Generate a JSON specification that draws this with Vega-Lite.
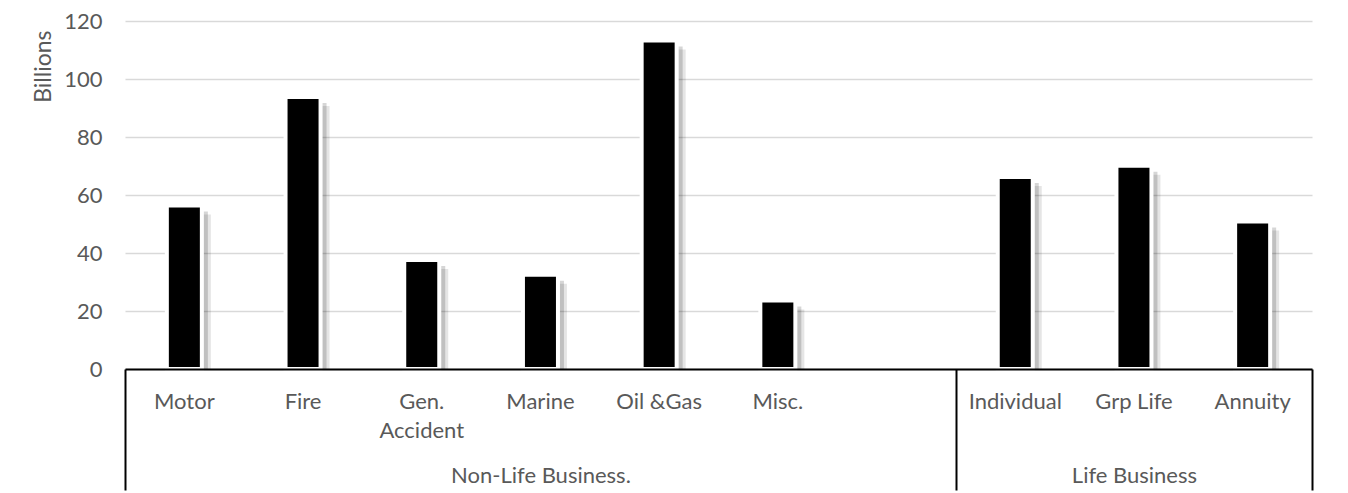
{
  "$schema": "https://vega.github.io/schema/vega-lite/v6.json",
  "width": 1187,
  "height": 348,
  "autosize": {"type": "none"},
  "padding": {"left": 125, "top": 21, "right": 36, "bottom": 124},
  "background": "white",
  "config": {
    "font": "Lato",
    "view": {"stroke": null},
    "axis": {"labelColor": "#595959", "titleColor": "#595959", "labelFont": "Lato", "titleFont": "Lato"}
  },
  "datasets": {
    "lines": [
      {"line": "Motor", "premium": 56.4},
      {"line": "Fire", "premium": 93.8},
      {"line": "Gen. Accident", "premium": 37.6},
      {"line": "Marine", "premium": 32.5},
      {"line": "Oil &Gas", "premium": 113.3},
      {"line": "Misc.", "premium": 23.6},
      {"line": "Individual", "premium": 66.2},
      {"line": "Grp Life", "premium": 70.1},
      {"line": "Annuity", "premium": 50.9}
    ],
    "groups": [
      {"group": "Non-Life Business.", "start": 0, "end": 7},
      {"group": "Life Business", "start": 7, "end": 10}
    ]
  },
  "layer": [
    {
      "data": {"name": "lines"},
      "encoding": {
        "x": {
          "field": "line",
          "type": "nominal",
          "scale": {
            "domain": ["Motor", "Fire", "Gen. Accident", "Marine", "Oil &Gas", "Misc.", "_gap", "Individual", "Grp Life", "Annuity"],
            "paddingInner": 0,
            "paddingOuter": 0
          },
          "axis": {
            "orient": "bottom",
            "title": null,
            "domain": true,
            "domainColor": "black",
            "domainWidth": 2,
            "ticks": false,
            "grid": false,
            "labelAngle": 0,
            "labelPadding": 22,
            "labelFontSize": 22,
            "labelLineHeight": 29,
            "labelExpr": "datum.label == 'Gen. Accident' ? ['Gen.', 'Accident'] : (datum.label == '_gap' ? '' : datum.label)",
            "zindex": 1
          }
        },
        "y": {
          "field": "premium",
          "type": "quantitative",
          "scale": {"domain": [0, 120], "nice": false},
          "axis": {
            "values": [0, 20, 40, 60, 80, 100, 120],
            "domain": false,
            "ticks": false,
            "grid": true,
            "gridColor": "#d9d9d9",
            "gridWidth": 1.5,
            "labelPadding": 23,
            "labelFontSize": 22,
            "title": "Billions",
            "titleFontSize": 23,
            "titleFontWeight": "normal",
            "titleAngle": -90,
            "titleX": -82,
            "titleY": 9,
            "titleAlign": "right",
            "titleBaseline": "middle"
          }
        }
      },
      "layer": [
        {
          "mark": {"type": "bar", "width": {"band": 0.295}, "fill": "#000000", "opacity": 0.1, "xOffset": 9, "yOffset": 9, "clip": true}
        },
        {
          "mark": {"type": "bar", "width": {"band": 0.295}, "fill": "#000000", "opacity": 0.16, "xOffset": 6, "yOffset": 6, "clip": true}
        },
        {
          "mark": {"type": "bar", "width": {"band": 0.295}, "fill": "#000000", "stroke": "#ffffff", "strokeWidth": 4}
        }
      ]
    },
    {
      "data": {"name": "groups"},
      "mark": {"type": "rect", "opacity": 0},
      "encoding": {
        "x": {
          "field": "start",
          "type": "quantitative",
          "scale": {"domain": [0, 10], "nice": false, "zero": false},
          "axis": {
            "orient": "bottom",
            "values": [0, 7, 10],
            "labels": false,
            "domain": false,
            "grid": false,
            "ticks": true,
            "tickSize": 121,
            "tickColor": "#000000",
            "tickWidth": 2,
            "title": null,
            "zindex": 1
          }
        },
        "x2": {"field": "end"}
      }
    },
    {
      "data": {"name": "groups"},
      "mark": {"type": "rect", "opacity": 0},
      "encoding": {
        "x": {
          "field": "start",
          "type": "quantitative",
          "scale": {"domain": [0, 10], "nice": false, "zero": false},
          "axis": {
            "orient": "bottom",
            "values": [3.5, 8.5],
            "labelExpr": "datum.value == 3.5 ? 'Non-Life Business.' : 'Life Business'",
            "labelFontSize": 22,
            "labelPadding": 96,
            "labelFlush": false,
            "labelOverlap": false,
            "domain": false,
            "grid": false,
            "ticks": false,
            "title": null,
            "zindex": 1
          }
        },
        "x2": {"field": "end"}
      }
    }
  ],
  "resolve": {"scale": {"x": "independent"}, "axis": {"x": "independent"}}
}
